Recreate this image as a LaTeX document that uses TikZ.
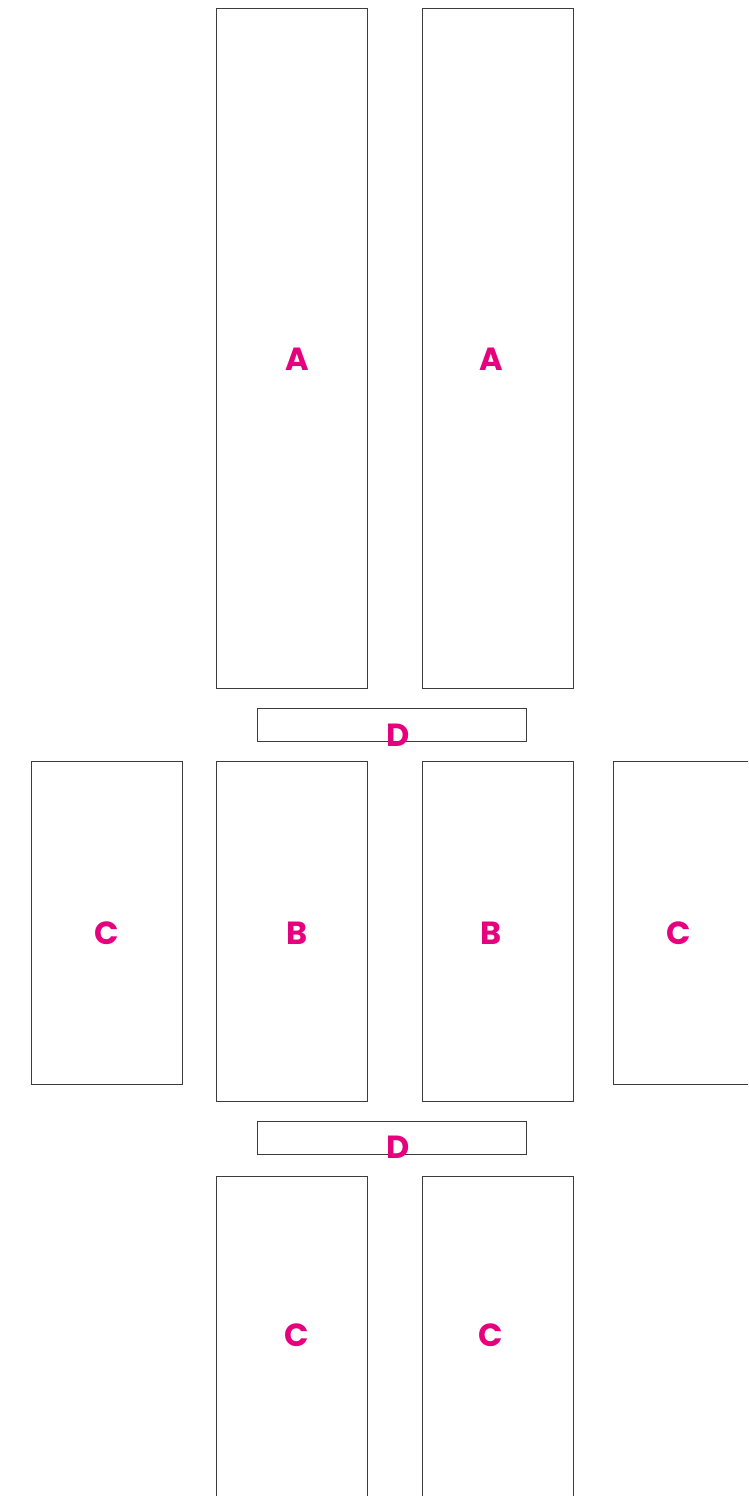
\documentclass[tikz,border=0pt]{standalone}
\usepackage{fontspec}
\setmainfont{Poppins}
\definecolor{lbl}{RGB}{230,0,126}
\definecolor{edge}{RGB}{60,60,60}
\begin{document}
\begin{tikzpicture}[x=1pt,y=-1pt,
  box/.style={draw=edge,line width=0.8pt,rectangle,inner sep=0pt,anchor=north west},
  tag/.style={text=lbl,font=\fontsize{32}{32}\selectfont\bfseries,inner sep=0pt}]
\useasboundingbox (0,0) rectangle (748,1496);
\clip (0,0) rectangle (748,1496);
% A
\node[box,minimum width=151pt,minimum height=680pt] (a1) at (216,8) {};
\node[box,minimum width=151pt,minimum height=680pt] (a2) at (422,8) {};
% D top
\node[box,minimum width=269pt,minimum height=33pt] (d1) at (257,708) {};
% middle row
\node[box,minimum width=151pt,minimum height=323pt] (c1) at (31,761) {};
\node[box,minimum width=151pt,minimum height=340pt] (b1) at (216,761) {};
\node[box,minimum width=151pt,minimum height=340pt] (b2) at (422,761) {};
\node[box,minimum width=151pt,minimum height=323pt] (c2) at (613,761) {};
% D bottom
\node[box,minimum width=269pt,minimum height=33pt] (d2) at (257,1121) {};
% bottom row
\node[box,minimum width=151pt,minimum height=340pt] (c3) at (216,1176) {};
\node[box,minimum width=151pt,minimum height=340pt] (c4) at (422,1176) {};
% labels
\node[tag] (la1) at (297,359) {A};
\node[tag] (la2) at (491,359) {A};
\node[tag] (ld1) at (398,735) {D};
\node[tag] (lc1) at (107,933) {C};
\node[tag] (lb1) at (297,933) {B};
\node[tag] (lb2) at (491,933) {B};
\node[tag] (lc2) at (679,933) {C};
\node[tag] (ld2) at (398,1147) {D};
\node[tag] (lc3) at (297,1335) {C};
\node[tag] (lc4) at (491,1335) {C};
\end{tikzpicture}
\end{document}
